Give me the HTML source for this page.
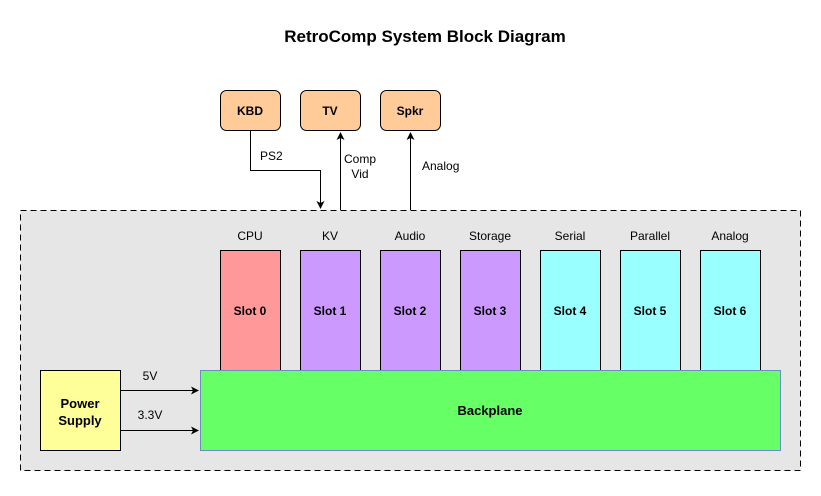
<!DOCTYPE html>
<html><head><style>body{margin:0;background:#fff}</style></head><body>
<svg width="821" height="491" xmlns="http://www.w3.org/2000/svg" font-family="Liberation Sans, Arial, sans-serif">
<defs><marker id="a" markerWidth="8" markerHeight="8" refX="7" refY="4" orient="auto" markerUnits="userSpaceOnUse"><path d="M0,0 L8,4 L0,8 L2,4 Z" fill="#000"/></marker></defs>
<text x="425" y="42" text-anchor="middle" font-size="17" font-weight="bold">RetroComp System Block Diagram</text>
<rect x="20.5" y="210.5" width="780" height="260" fill="#e6e6e6" stroke="#000" stroke-dasharray="6,4"/>
<g stroke="#000" fill="#FFCC99">
<rect x="220.5" y="90.5" width="60" height="40" rx="6"/>
<rect x="300.5" y="90.5" width="60" height="40" rx="6"/>
<rect x="380.5" y="90.5" width="60" height="40" rx="6"/>
</g>
<g font-size="12" font-weight="bold" text-anchor="middle">
<text x="250" y="115">KBD</text><text x="330" y="115">TV</text><text x="410" y="115">Spkr</text>
</g>
<g stroke="#000" fill="none">
<path d="M250.5,130 V170.5 H320.5 V208" marker-end="url(#a)"/>
<path d="M340.5,210 V133" marker-end="url(#a)"/>
<path d="M410.5,210 V133" marker-end="url(#a)"/>
<path d="M120,390.5 H198" marker-end="url(#a)"/>
<path d="M120,430.5 H198" marker-end="url(#a)"/>
</g>
<g font-size="12">
<text x="260" y="160">PS2</text>
<text x="360" y="163" text-anchor="middle">Comp</text>
<text x="360" y="178" text-anchor="middle">Vid</text>
<rect x="416" y="158" width="46" height="14" fill="#fff"/>
<text x="422" y="170">Analog</text>
<text x="150" y="380" text-anchor="middle">5V</text>
<text x="150" y="419" text-anchor="middle">3.3V</text>
</g>
<g font-size="12" text-anchor="middle">
<text x="250" y="240">CPU</text><text x="330" y="240">KV</text><text x="410" y="240">Audio</text><text x="490" y="240">Storage</text><text x="570" y="240">Serial</text><text x="650" y="240">Parallel</text><text x="730" y="240">Analog</text>
</g>
<g stroke="#000">
<rect x="220.5" y="250.5" width="60" height="120" fill="#FF9999"/>
<rect x="300.5" y="250.5" width="60" height="120" fill="#CC99FF"/>
<rect x="380.5" y="250.5" width="60" height="120" fill="#CC99FF"/>
<rect x="460.5" y="250.5" width="60" height="120" fill="#CC99FF"/>
<rect x="540.5" y="250.5" width="60" height="120" fill="#99FFFF"/>
<rect x="620.5" y="250.5" width="60" height="120" fill="#99FFFF"/>
<rect x="700.5" y="250.5" width="60" height="120" fill="#99FFFF"/>
</g>
<g font-size="12" font-weight="bold" text-anchor="middle">
<text x="250" y="315">Slot 0</text><text x="330" y="315">Slot 1</text><text x="410" y="315">Slot 2</text><text x="490" y="315">Slot 3</text><text x="570" y="315">Slot 4</text><text x="650" y="315">Slot 5</text><text x="730" y="315">Slot 6</text>
</g>
<rect x="200.5" y="370.5" width="580" height="80" fill="#66FF66" stroke="#6c8ebf"/>
<text x="490" y="415" font-size="13" font-weight="bold" text-anchor="middle">Backplane</text>
<rect x="40.5" y="370.5" width="80" height="80" fill="#FFFF99" stroke="#000"/>
<text x="80" y="408" font-size="13" font-weight="bold" text-anchor="middle">Power</text>
<text x="80" y="425" font-size="13" font-weight="bold" text-anchor="middle">Supply</text>
</svg>
</body></html>
